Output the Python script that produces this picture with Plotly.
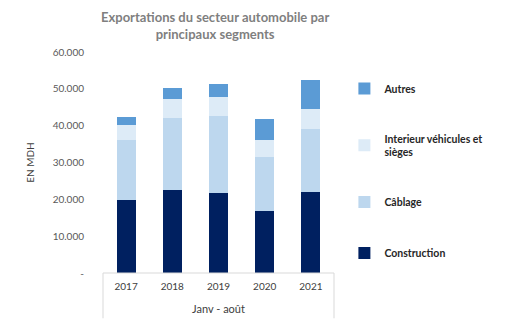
import plotly.graph_objects as go

years = ["2017", "2018", "2019", "2020", "2021"]
construction = [19800, 22500, 21600, 16700, 21900]
cablage = [16200, 19600, 21000, 14700, 17100]
interieur = [4200, 5100, 5200, 4600, 5400]
autres = [2200, 3000, 3600, 5700, 7900]

series = [
    ("Construction", construction, "#002060"),
    ("Câblage", cablage, "#BDD7EE"),
    ("Interieur véhicules et<br>sièges", interieur, "#DDEBF7"),
    ("Autres", autres, "#5B9BD5"),
]

y_tickvals = [0, 10000, 20000, 30000, 40000, 50000, 60000]
y_ticktext = ["-", "10.000", "20.000", "30.000", "40.000", "50.000", "60.000"]

fig = go.Figure()
n = len(series)
for i, (name, vals, col) in enumerate(series):
    fig.add_trace(go.Bar(
        x=years, y=vals, name="<b>" + name + "</b>",
        marker=dict(color=col, line=dict(width=0)),
        legendgroup="g%d" % (n - i), legendrank=n - i,
    ))

font_family = "Lato, Open Sans, sans-serif"
fig.update_layout(
    width=505, height=326,
    barmode="stack", bargap=0.59,
    paper_bgcolor="white", plot_bgcolor="white",
    margin=dict(l=103, r=171, t=52, b=53, autoexpand=False),
    font=dict(family=font_family, size=10, color="#404040"),
    xaxis=dict(
        showline=False, showgrid=False, ticks="", zeroline=False,
        ticklabelstandoff=6,
        tickfont=dict(size=10, color="#404040"),
        title=dict(text="Janv - août", font=dict(size=11, color="#404040"), standoff=14),
    ),
    yaxis=dict(
        range=[0, 60000], tickvals=y_tickvals, ticktext=y_ticktext,
        showgrid=False, zeroline=False, showline=False, ticks="",
        ticklabelstandoff=18,
        tickfont=dict(size=10, color="#595959"),
        title=dict(text="EN MDH", font=dict(size=10, color="#404040"), standoff=16),
    ),
    legend=dict(
        x=1.045, xanchor="left", y=0.9, yanchor="top",
        traceorder="grouped", tracegroupgap=32,
        font=dict(size=10.5, color="#262626", family=font_family),
        itemwidth=30, bgcolor="rgba(0,0,0,0)",
    ),
    annotations=[
        dict(text="<b>Exportations du secteur automobile par<br>principaux segments</b>",
             xref="paper", yref="paper", x=0.485, y=1.205,
             xanchor="center", yanchor="top", showarrow=False,
             font=dict(size=13, color="#7f7f7f", family=font_family)),
    ],
    shapes=[
        dict(type="path", xref="paper", yref="paper",
             path="M 0,-0.205 L 0,0 L 1,0 L 1,-0.205",
             line=dict(color="#d9d9d9", width=1)),
    ],
)

fig.write_html("out.html")
